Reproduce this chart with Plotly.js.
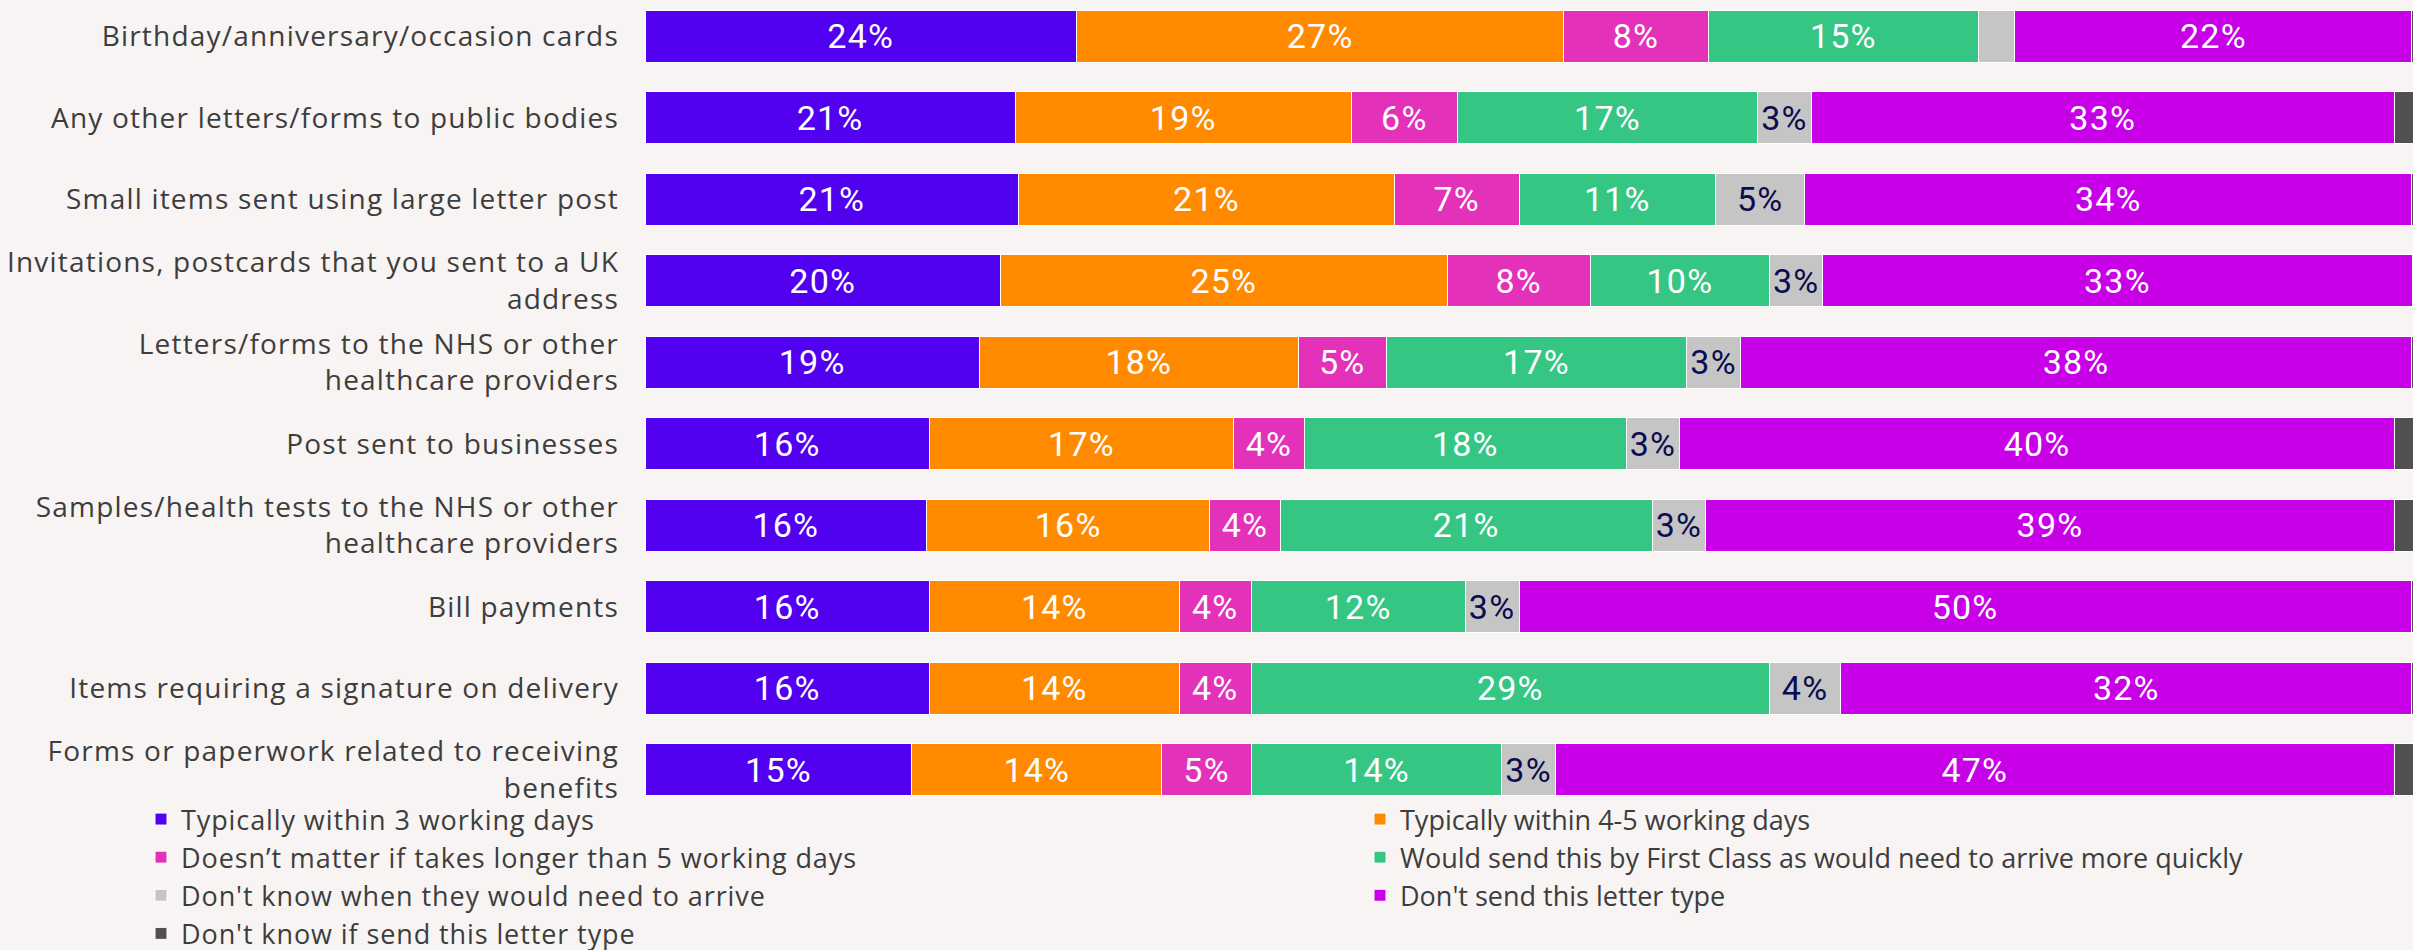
<!DOCTYPE html>
<html>
<head>
<meta charset="utf-8">
<script src="https://cdn.plot.ly/plotly-3.0.1.min.js"></script>
<style>
  html, body { margin: 0; padding: 0; background: #F8F4F3; }
  #chart { width: 2413px; height: 950px; }
  .ytick text, text.ytick { letter-spacing: 1.2px; }
  .legendtext, text.legendtext { letter-spacing: 0.9px; }
  text.bartext { letter-spacing: 1.2px; }
</style>
</head>
<body>
<div id="chart"></div>
<script>
// Categories, top to bottom
const categories = [
  "Birthday/anniversary/occasion cards",
  "Any other letters/forms to public bodies",
  "Small items sent using large letter post",
  "Invitations, postcards that you sent to a UK<br>address",
  "Letters/forms to the NHS or other<br>healthcare providers",
  "Post sent to businesses",
  "Samples/health tests to the NHS or other<br>healthcare providers",
  "Bill payments",
  "Items requiring a signature on delivery",
  "Forms or paperwork related to receiving<br>benefits"
];

// Segment values (% of respondents)
const within3Days   = [23.94, 20.54, 20.73, 19.72, 18.55, 15.78, 15.62, 15.78, 15.78, 14.81];
const within45Days  = [27.05, 18.65, 20.85, 24.79, 17.70, 16.88, 15.72, 13.86, 13.86, 13.86];
const longerThan5   = [8.00, 5.89, 6.93, 7.94, 4.88, 3.93, 3.91, 4.00, 4.00, 4.98];
const firstClass    = [15.01, 16.66, 10.89, 9.96, 16.68, 17.86, 20.64, 11.87, 28.76, 13.89];
const dkWhen        = [2.02, 2.97, 4.96, 2.94, 2.97, 2.97, 2.97, 2.99, 3.95, 2.98];
const dontSend      = [22.03, 32.36, 33.68, 32.71, 37.26, 39.66, 38.21, 49.51, 31.70, 46.55];
const dkIfSend      = [1.95, 2.93, 1.96, 1.94, 1.96, 2.92, 2.93, 1.99, 1.95, 2.93];

// Printed labels (%)
const within3Labels  = [24, 21, 21, 20, 19, 16, 16, 16, 16, 15];
const within45Labels = [27, 19, 21, 25, 18, 17, 16, 14, 14, 14];
const longerLabels   = [8, 6, 7, 8, 5, 4, 4, 4, 4, 5];
const firstLabels    = [15, 17, 11, 10, 17, 18, 21, 12, 29, 14];
const dkWhenLabels   = [2, 3, 5, 3, 3, 3, 3, 3, 4, 3];
const dontSendLabels = [22, 33, 34, 33, 38, 40, 39, 50, 32, 47];

const seriesNames = [
  "Typically within 3 working days",
  "Typically within 4-5 working days",
  "Doesn\u2019t matter if takes longer than 5 working days",
  "Would send this by First Class as would need to arrive more quickly",
  "Don't know when they would need to arrive",
  "Don't send this letter type",
  "Don't know if send this letter type"
];

const FONT = "'Open Sans', 'Noto Sans', sans-serif";
const BARFONT = "Roboto, 'Liberation Sans', sans-serif";
const colors = ["#5200F0", "#FF8A00", "#E331BA", "#36C684", "#C5C5C5", "#C700E8", "#505050"];
const textColors = ["#FFFFFF", "#FFFFFF", "#FFFFFF", "#FFFFFF", "#0B0B4F", "#FFFFFF", "#FFFFFF"];
const seriesValues = [within3Days, within45Days, longerThan5, firstClass, dkWhen, dontSend, dkIfSend];
const seriesLabels = [within3Labels, within45Labels, longerLabels, firstLabels, dkWhenLabels, dontSendLabels, null];
const legendOf = ["legend", "legend2", "legend", "legend2", "legend", "legend2", "legend"];

const traces = seriesValues.map((vals, s) => ({
  type: "bar",
  orientation: "h",
  name: seriesNames[s],
  y: categories,
  x: vals,
  text: vals.map((v, i) => (seriesLabels[s] && v >= 2.5) ? seriesLabels[s][i] + "%" : ""),
  textposition: "inside",
  insidetextanchor: "middle",
  textangle: 0,
  constraintext: "none",
  textfont: { family: BARFONT, size: 34, color: textColors[s] },
  marker: { color: colors[s], line: { color: "#FFFFFF", width: 1 } },
  hoverinfo: "skip",
  legend: legendOf[s]
}));

const layout = {
  width: 2413,
  height: 950,
  paper_bgcolor: "#F8F4F3",
  plot_bgcolor: "#F8F4F3",
  barmode: "stack",
  bargap: 0.362,
  margin: { l: 645, r: 0, t: 0, b: 140, autoexpand: false },
  font: { family: FONT, color: "#3D3D3D" },
  xaxis: {
    range: [0, 98.11],
    showgrid: false, zeroline: false, showticklabels: false, showline: false, ticks: ""
  },
  yaxis: {
    type: "category",
    categoryorder: "array",
    categoryarray: categories,
    range: [9.494, -0.445],
    showgrid: false, zeroline: false, showline: false, ticks: "",
    ticklabelstandoff: 25,
    tickfont: { family: FONT, size: 28, color: "#3D3D3D" }
  },
  showlegend: true,
  legend: {
    xref: "container", yref: "container",
    x: 141 / 2413, xanchor: "left",
    y: 1 - 795 / 950, yanchor: "top",
    orientation: "v",
    bgcolor: "rgba(0,0,0,0)",
    font: { family: FONT, size: 27, color: "#3D3D3D" },
    traceorder: "normal"
  },
  legend2: {
    xref: "container", yref: "container",
    x: 1360 / 2413, xanchor: "left",
    y: 1 - 795 / 950, yanchor: "top",
    orientation: "v",
    bgcolor: "rgba(0,0,0,0)",
    font: { family: FONT, size: 27, color: "#3D3D3D" },
    traceorder: "normal"
  }
};

Plotly.newPlot("chart", traces, layout, { displayModeBar: false, staticPlot: true });
</script>
</body>
</html>
